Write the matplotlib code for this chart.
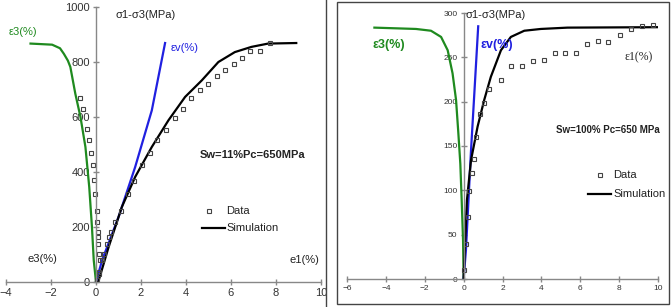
import matplotlib.pyplot as plt
from matplotlib.patches import Rectangle
from matplotlib.lines import Line2D

plt.rcParams['font.family'] = ['Liberation Sans', 'DejaVu Sans']

# ---- Panneau gauche : Sw=11%, Pc=650 MPa ----
l_e3_x = [-2.91, -1.95, -1.6, -1.43, -1.25, -1.14, -0.92, -0.69, -0.47, -0.30, -0.18, -0.10, 0.0]
l_e3_y = [867, 863, 850, 830, 805, 782, 685, 600, 491, 345, 200, 79, 0]
l_ev_x = [0.0, 0.27, 1.0, 1.74, 2.48, 3.07]
l_ev_y = [0, 79, 236, 418, 624, 869]
l_e1_x = [0.0, 0.1, 0.56, 1.15, 1.74, 2.48, 3.22, 3.96, 4.7, 5.44, 6.17, 6.91, 7.65, 8.9]
l_e1_y = [0, 0, 127, 273, 382, 491, 588, 673, 733, 800, 836, 855, 867, 869]
l_d1_x = [0.04, 0.12, 0.19, 0.27, 0.34, 0.49, 0.56, 0.68, 0.85, 1.12, 1.42, 1.71, 2.04, 2.41,
          2.73, 3.12, 3.49, 3.86, 4.22, 4.6, 4.99, 5.36, 5.73, 6.13, 6.5, 6.84, 7.28, 7.73]
l_d1_y = [6, 30, 80, 80, 102, 138, 162, 181, 219, 259, 320, 368, 424, 469,
          515, 554, 598, 630, 668, 697, 719, 750, 772, 794, 815, 840, 840, 870]
l_d3_x = [0.15, 0.15, 0.09, 0.09, 0.09, 0.04, 0.04, -0.03, -0.07, -0.13, -0.21, -0.30, -0.40, -0.59, -0.69]
l_d3_y = [37, 102, 138, 163, 182, 219, 259, 320, 372, 424, 469, 515, 555, 630, 669]

# ---- Panneau droit : Sw=100%, Pc=650 MPa ----
r_e3_x = [-4.59, -2.45, -1.68, -1.16, -0.82, -0.57, -0.39, -0.27, -0.17, -0.10, -0.03, 0.0]
r_e3_y = [283.5, 282, 280, 273, 258, 232, 202, 164, 130, 89, 44, 0]
r_ev_x = [0.0, 0.12, 0.38, 0.55, 0.75]
r_ev_y = [0, 33, 145, 209, 285]
r_e1_x = [0.0, 0.17, 0.38, 0.72, 1.06, 1.40, 1.92, 2.43, 3.12, 3.97, 5.34, 9.97]
r_e1_y = [0, 89, 134, 172, 202, 228, 258, 273, 280, 282, 283.5, 284]
r_d_x = [0.03, 0.12, 0.21, 0.29, 0.41, 0.51, 0.63, 0.84, 1.03, 1.32, 1.92, 2.43, 2.98, 3.56,
         4.11, 4.69, 5.22, 5.77, 6.34, 6.92, 7.45, 8.03, 8.6, 9.2, 9.74]
r_d_y = [10, 40, 70, 99, 119, 135, 160, 186, 198, 214, 224, 240, 240, 246,
         247, 255, 255, 255, 265, 268, 267, 275, 282, 285, 286]

W, H = 671, 307
fig = plt.figure(figsize=(W / 100, H / 100), dpi=100)


def fx(p):
    return p / W


def fy(p):
    return 1 - p / H


def axe_croix(ax, xlim, ylim, xticks, yticks, fs):
    ax.set_xlim(*xlim)
    ax.set_ylim(*ylim)
    for s in ['top', 'right']:
        ax.spines[s].set_visible(False)
    ax.spines['left'].set_position(('data', 0))
    ax.spines['bottom'].set_position(('data', 0))
    for s in ['left', 'bottom']:
        ax.spines[s].set_color('#888888')
        ax.spines[s].set_linewidth(1)
    ax.set_xticks(xticks)
    ax.set_yticks(yticks)
    ax.tick_params(direction='inout', length=5, width=1, color='#888888',
                   labelsize=fs, labelcolor='#333333', pad=2)
    ax.patch.set_alpha(0)


# gauche
ax1 = fig.add_axes([fx(6), fy(282), fx(321) - fx(6), fy(7) - fy(282)])
axe_croix(ax1, (-4, 10), (0, 1000), range(-4, 11, 2), range(0, 1001, 200), 8)
ax1.plot(l_e3_x, l_e3_y, color='#1f8a1f', lw=1.6)
ax1.plot(l_ev_x, l_ev_y, color='#2020e0', lw=1.6)
ax1.plot(l_e1_x, l_e1_y, color='black', lw=1.6)
mk = dict(ls='none', marker='s', ms=3, mfc='none', mec='#444444', mew=0.8)
ax1.plot(l_d1_x, l_d1_y, **mk)
ax1.plot(l_d3_x, l_d3_y, **mk)

ax1.text(0.85, 970, 'σ1-σ3(MPa)', fontsize=8, color='#222222', va='center')
ax1.text(-3.9, 910, 'ε3(%)', fontsize=8, color='#1f8a1f', va='center')
ax1.text(3.3, 850, 'εv(%)', fontsize=8, color='#2020e0', va='center')
ax1.text(4.6, 460, 'Sw=11%Pc=650MPa', fontsize=8, fontweight='bold', color='#222222', va='center')
ax1.text(-3.05, 85, 'e3(%)', fontsize=8, color='#222222', va='center')
ax1.text(8.6, 80, 'e1(%)', fontsize=8, color='#222222', va='center')
ax1.plot([5.0], [260], **mk)
ax1.text(5.8, 260, 'Data', fontsize=8, color='#222222', va='center')
ax1.plot([4.7, 5.75], [198, 198], color='black', lw=1.6)
ax1.text(5.8, 198, 'Simulation', fontsize=8, color='#222222', va='center')

# droite
ax2 = fig.add_axes([fx(347), fy(279), fx(658) - fx(347), fy(13) - fy(279)])
axe_croix(ax2, (-6, 10), (0, 300), range(-6, 11, 2), range(0, 301, 50), 6)
ax2.plot(r_e3_x, r_e3_y, color='#1f8a1f', lw=1.6)
ax2.plot(r_ev_x, r_ev_y, color='#2020e0', lw=1.6)
ax2.plot(r_e1_x, r_e1_y, color='black', lw=1.6)
ax2.plot(r_d_x, r_d_y, **mk)

ax2.text(0.1, 298, 'σ1-σ3(MPa)', fontsize=8, color='#222222', va='center')
ax2.text(-4.7, 264, 'ε3(%)', fontsize=9, color='#1f8a1f', va='center', fontweight='bold')
ax2.text(0.85, 264, 'εv(%)', fontsize=9, color='#2020e0', va='center', fontweight='bold')
ax2.text(8.3, 250, 'ε1(%)', fontsize=8.5, color='#222222', va='center', family='Liberation Serif')
ax2.text(4.75, 168, 'Sw=100% Pc=650 MPa', fontsize=7, fontweight='bold', color='#222222', va='center')
ax2.plot([7.0], [117], **mk)
ax2.text(7.7, 117, 'Data', fontsize=8, color='#222222', va='center')
ax2.plot([6.4, 7.6], [96, 96], color='black', lw=1.6)
ax2.text(7.7, 96, 'Simulation', fontsize=8, color='#222222', va='center')

# cadres
fig.add_artist(Rectangle((fx(337), fy(304)), fx(669) - fx(337), fy(2) - fy(304),
                         transform=fig.transFigure, fill=False, ec='#444444', lw=1))
fig.add_artist(Line2D([fx(326), fx(326)], [0, 1], transform=fig.transFigure,
                      color='#444444', lw=1))

fig.savefig('out.png', dpi=100)
